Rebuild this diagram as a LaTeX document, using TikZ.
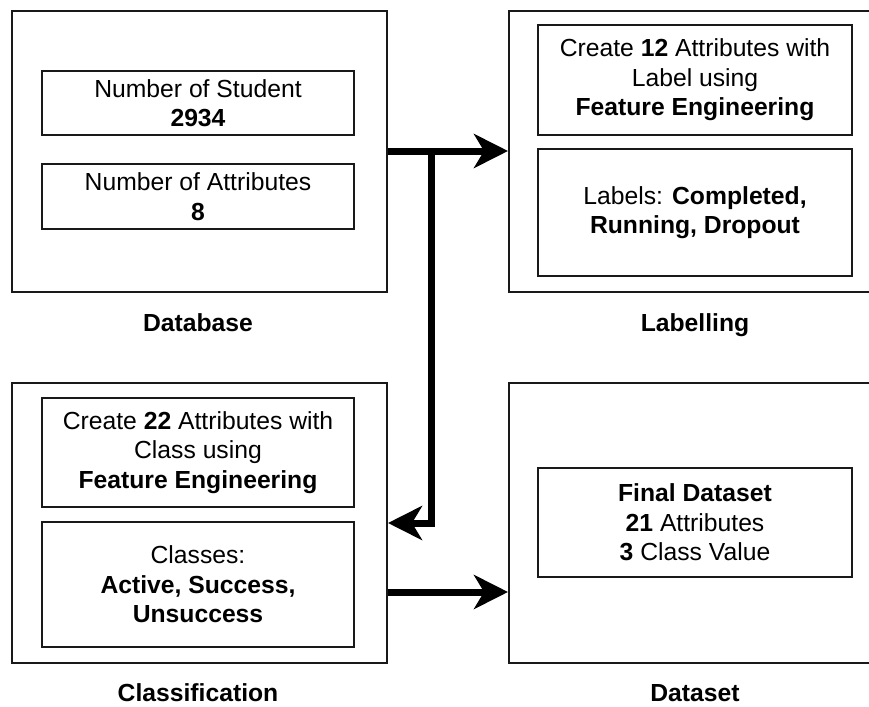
\documentclass[tikz,border=0pt]{standalone}
\usepackage{fontspec}
\setmainfont{Liberation Sans}
\usetikzlibrary{arrows.meta}

\tikzset{
  outerbox/.style={draw=black!90, line width=2pt, fill=white, inner sep=0pt, anchor=north west},
  innerbox/.style={draw=black!90, line width=2.4pt, fill=white, inner sep=0pt, align=center,
                   font=\fontsize{24.7}{29.6}\selectfont},
  caption/.style={font=\fontsize{24.7}{29.6}\selectfont\bfseries, anchor=base},
  flow/.style={line width=7pt, -{Stealth[length=34pt,width=34pt,inset=10pt]}},
}

\begin{document}
\begin{tikzpicture}[x=1pt,y=-1pt]
  \useasboundingbox (0,0) rectangle (869,706);
  \clip (0,0) rectangle (869,706);
  \fill[white] (0,0) rectangle (869,706);

  % group frames
  \node[outerbox, minimum width=375pt, minimum height=281pt] (db)  at (11,10)  {};
  \node[outerbox, minimum width=374pt, minimum height=281pt] (lab) at (508,10) {};
  \node[outerbox, minimum width=375pt, minimum height=280pt] (cls) at (11,382) {};
  \node[outerbox, minimum width=374pt, minimum height=280pt] (ds)  at (508,382) {};

  % contents of the groups
  \node[innerbox, minimum width=312pt, minimum height=64pt]  (db1)  at (198,103)   {Number of Student\\\textbf{2934}};
  \node[innerbox, minimum width=312pt, minimum height=65pt]  (db2)  at (198,196.5) {Number of Attributes\\\textbf{8}};
  \node[innerbox, minimum width=314pt, minimum height=110pt] (lab1) at (695,80)    {Create \textbf{12} Attributes with\\Label using\\\textbf{Feature Engineering}};
  \node[innerbox, minimum width=314pt, minimum height=127pt] (lab2) at (695,212.5) {Labels: {\bfseries Completed,}\\\textbf{Running, Dropout}};
  \node[innerbox, minimum width=312pt, minimum height=109pt] (cls1) at (198,452.5) {Create \textbf{22} Attributes with\\Class using\\\textbf{Feature Engineering}};
  \node[innerbox, minimum width=312pt, minimum height=125pt] (cls2) at (198,584.5) {Classes:\\\textbf{Active, Success,}\\\textbf{Unsuccess}};
  \node[innerbox, minimum width=314pt, minimum height=109pt] (ds1)  at (695,522.5) {\textbf{Final Dataset}\\\textbf{21} Attributes\\\textbf{3} Class Value};

  % group captions
  \node[caption] (dbcap)  at (198,331) {Database};
  \node[caption] (labcap) at (695,331) {Labelling};
  \node[caption] (clscap) at (198,701) {Classification};
  \node[caption] (dscap)  at (695,701) {Dataset};

  % connectors
  \coordinate (split) at (431,151);
  \coordinate (turn)  at (431,523);
  \draw[flow] (db.east |- split) -- (lab.west |- split);
  \draw[flow] (split) -- (turn) -- (cls.east |- turn);
  \draw[flow] (cls.east |- 0,592) -- (ds.west |- 0,592);
\end{tikzpicture}
\end{document}
